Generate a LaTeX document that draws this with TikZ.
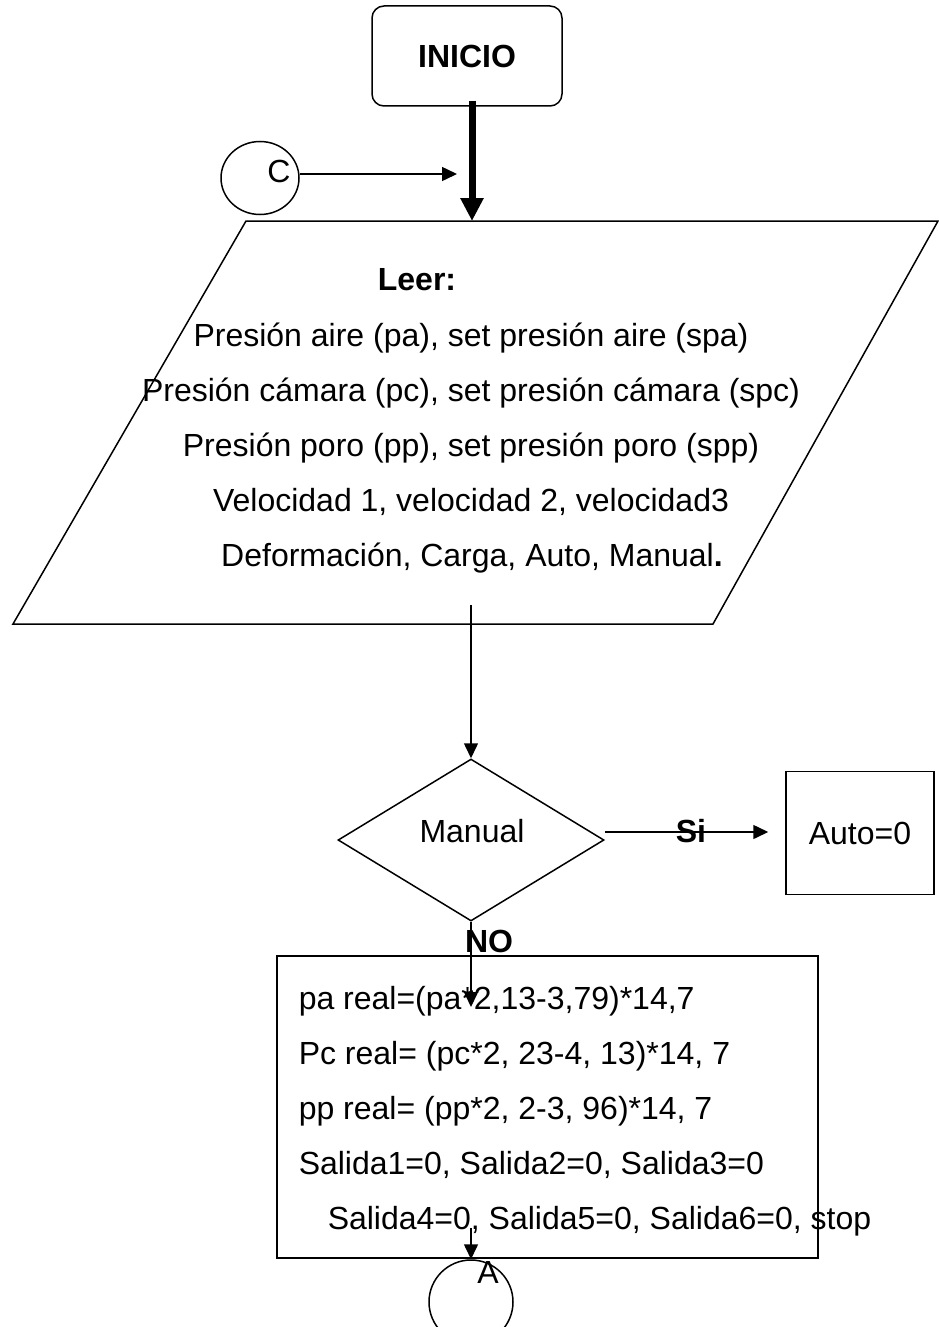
\documentclass[tikz,border=0pt]{standalone}
\usepackage{fontspec}
\setmainfont{Liberation Sans}
\usepackage{tikz}
\usetikzlibrary{arrows.meta,shapes.geometric}

\begin{document}
\begin{tikzpicture}[x=1pt,y=-1pt,line width=1.5pt,>={Triangle[width=14pt,length=15pt]},
  txt/.style={font=\fontsize{32}{38}\selectfont,inner sep=0pt,anchor=base},
  btxt/.style={txt,font=\fontsize{32}{38}\selectfont\bfseries},
  ltxt/.style={txt,anchor=base west},
  procbox/.style={draw,rectangle,inner sep=0pt,font=\fontsize{32}{38}\selectfont},
  decision/.style={draw,diamond,inner sep=0pt,minimum width=266pt,minimum height=162pt},
  conn/.style={draw,ellipse,inner sep=0pt}]
  \useasboundingbox (0,0) rectangle (938,1327);
  \node[procbox,rounded corners=12pt,minimum width=190pt,minimum height=100pt,font=\fontsize{32}{38}\selectfont\bfseries] (inicio) at (467,56) {INICIO};
  \node[conn,minimum width=78pt,minimum height=73pt] (conC) at (260,178) {};
  \node[txt] (ctxt) at (279,182) {C};
  \coordinate (cend) at (457,174);
  \coordinate (ptop) at (472,221);
  \coordinate (pout) at (471,605);
  \draw (246,221) -- (938,221) -- (713,624) -- (13,624) -- cycle;
  \node[btxt] (leer) at (417,290) {Leer:};
  \node[txt] (l1) at (471,346) {Presión aire (pa), set presión aire (spa)};
  \node[txt] (l2) at (471,401) {Presión cámara (pc), set presión cámara (spc)};
  \node[txt] (l3) at (471,456) {Presión poro (pp), set presión poro (spp)};
  \node[txt] (l4) at (471,511) {Velocidad 1, velocidad 2, velocidad3};
  \node[txt] (l5) at (472,566) {Deformación, Carga, Auto, Manual\textbf{.}};
  \node[decision] (manual) at (471,840) {};
  \node[txt] (manualtxt) at (472,842) {Manual};
  \node[procbox,minimum width=148pt,minimum height=123pt] (auto) at (860,833) {Auto=0};
  \node[btxt] (si) at (691,842) {Si};
  \node[btxt] (no) at (489,952) {NO};
  \coordinate (noend) at (471,1007);
  \node[procbox,minimum width=541pt,minimum height=302pt] (calc) at (547.5,1107) {};
  \node[ltxt] (r1) at (298,1009) {pa real=(pa*2,13-3,79)*14,7};
  \node[ltxt] (r2) at (298,1064) {Pc real= (pc*2, 23-4, 13)*14, 7};
  \node[ltxt] (r3) at (298,1119) {pp real= (pp*2, 2-3, 96)*14, 7};
  \node[ltxt] (r4) at (298,1174) {Salida1=0, Salida2=0, Salida3=0};
  \node[ltxt] (r5) at (327,1229) {Salida4=0, Salida5=0, Salida6=0, stop};
  \coordinate (aout) at (471,1228);
  \node[conn,minimum width=84pt,minimum height=84pt] (conA) at (471,1302) {};
  \node[txt] (atxt) at (488,1283) {A};
  \draw[line width=7pt,-{Triangle[width=22pt,length=23pt]}] ([xshift=5pt,yshift=6pt]inicio.south) -- (ptop);
  \draw[->] ([yshift=4pt]conC.east) -- (cend);
  \draw[->] (pout) -- (manual.north);
  \draw[->,shorten >=17pt] ([yshift=8pt]manual.east) -- ([yshift=8pt]manual.east -| auto.west);
  \draw[->] (manual.south) -- (noend);
  \draw[->] (aout) -- (conA.north);
\end{tikzpicture}
\end{document}
